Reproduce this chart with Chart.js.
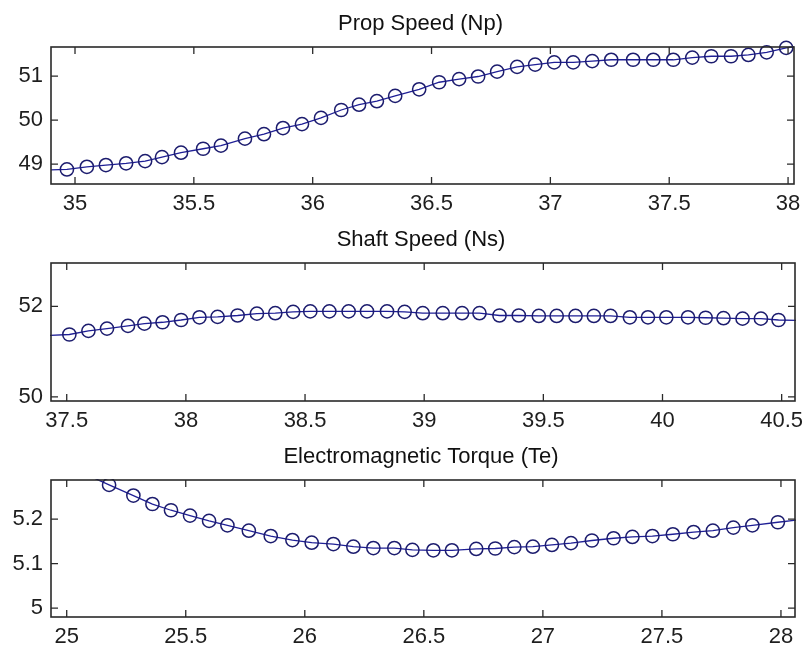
<!DOCTYPE html>
<html>
<head>
<meta charset="utf-8">
<script src="https://cdn.jsdelivr.net/npm/chart.js@4/dist/chart.umd.min.js"></script>
<style>
  html, body { margin: 0; padding: 0; background: #ffffff; }
  #wrap { position: relative; width: 804px; height: 651px; background: #ffffff; }
  canvas { position: absolute; left: 0; }
</style>
</head>
<body>
<div id="wrap">
  <canvas id="c1" width="804" height="218" style="top:0px"></canvas>
  <canvas id="c2" width="804" height="218" style="top:218px"></canvas>
  <canvas id="c3" width="804" height="215" style="top:436px"></canvas>
</div>
<script>
// Prop speed Np over time
const PROP_T = [34.886, 34.966, 35.05, 35.13, 35.215, 35.295, 35.366, 35.446, 35.539, 35.614,
  35.715, 35.795, 35.875, 35.955, 36.035, 36.12, 36.195, 36.27, 36.347, 36.448,
  36.532, 36.616, 36.696, 36.776, 36.86, 36.936, 37.016, 37.096, 37.176, 37.256,
  37.348, 37.433, 37.517, 37.597, 37.677, 37.76, 37.833, 37.91, 37.992, 38.07];
const PROP_NP = [48.87, 48.88, 48.94, 48.98, 49.02, 49.07, 49.16, 49.26, 49.35, 49.42,
  49.58, 49.68, 49.82, 49.91, 50.05, 50.23, 50.35, 50.43, 50.55, 50.70,
  50.86, 50.93, 50.99, 51.10, 51.21, 51.26, 51.31, 51.31, 51.34, 51.37,
  51.37, 51.37, 51.37, 51.42, 51.45, 51.45, 51.48, 51.54, 51.64, 51.70];
const PROP_XTICKS = [35, 35.5, 36, 36.5, 37, 37.5, 38];
const PROP_YTICKS = [49, 50, 51];

// Shaft speed Ns over time
const SHAFT_T = [37.42, 37.511, 37.591, 37.669, 37.757, 37.826, 37.902, 37.98, 38.057, 38.133,
  38.217, 38.298, 38.375, 38.45, 38.522, 38.602, 38.683, 38.76, 38.844, 38.918,
  38.994, 39.078, 39.159, 39.232, 39.316, 39.397, 39.481, 39.556, 39.635, 39.712,
  39.782, 39.863, 39.939, 40.016, 40.107, 40.181, 40.256, 40.336, 40.413, 40.487, 40.57];
const SHAFT_NS = [51.36, 51.38, 51.46, 51.51, 51.57, 51.62, 51.65, 51.70, 51.76, 51.77,
  51.80, 51.84, 51.85, 51.88, 51.89, 51.89, 51.89, 51.89, 51.89, 51.88,
  51.85, 51.85, 51.85, 51.85, 51.80, 51.80, 51.79, 51.79, 51.79, 51.79,
  51.79, 51.76, 51.76, 51.76, 51.76, 51.75, 51.74, 51.73, 51.73, 51.70, 51.69];
const SHAFT_XTICKS = [37.5, 38, 38.5, 39, 39.5, 40, 40.5];
const SHAFT_YTICKS = [50, 52];

// Electromagnetic torque Te over time
const TE_T = [25.10, 25.178, 25.28, 25.36, 25.438, 25.518, 25.598, 25.675, 25.765, 25.857,
  25.948, 26.029, 26.12, 26.204, 26.288, 26.376, 26.452, 26.54, 26.618, 26.72,
  26.80, 26.88, 26.958, 27.038, 27.118, 27.206, 27.297, 27.376, 27.46, 27.546,
  27.633, 27.714, 27.80, 27.88, 27.987, 28.08];
const TE_VAL = [5.296, 5.277, 5.253, 5.234, 5.220, 5.208, 5.196, 5.186, 5.174, 5.162,
  5.153, 5.147, 5.144, 5.138, 5.135, 5.135, 5.131, 5.130, 5.130, 5.133,
  5.134, 5.137, 5.138, 5.142, 5.146, 5.152, 5.157, 5.160, 5.162, 5.166,
  5.171, 5.174, 5.181, 5.186, 5.193, 5.199];
const TE_XTICKS = [25, 25.5, 26, 26.5, 27, 27.5, 28];
const TE_YTICKS = [5, 5.1, 5.2];

const LINE_COLOR = '#1f1f96';
const MARKER_COLOR = '#1c1c6e';
const AXIS_COLOR = '#2a2a2a';
const FONT = "'Liberation Sans', Arial, sans-serif";

Chart.defaults.font.family = FONT;
Chart.defaults.color = '#1e1e1e';

// Axes box with inward tick marks on all four sides, plus the panel title
const boxPlugin = {
  id: 'boxAxes',
  afterDraw(chart, args, opts) {
    const { ctx, chartArea: a, scales } = chart;
    const tl = 7;
    ctx.save();
    ctx.strokeStyle = AXIS_COLOR;
    ctx.lineWidth = 1.6;
    ctx.strokeRect(a.left, a.top, a.right - a.left, a.bottom - a.top);
    ctx.lineWidth = 1.3;
    ctx.beginPath();
    scales.x.ticks.forEach(t => {
      const px = scales.x.getPixelForValue(t.value);
      ctx.moveTo(px, a.bottom); ctx.lineTo(px, a.bottom - tl);
      ctx.moveTo(px, a.top); ctx.lineTo(px, a.top + tl);
    });
    scales.y.ticks.forEach(t => {
      const py = scales.y.getPixelForValue(t.value);
      ctx.moveTo(a.left, py); ctx.lineTo(a.left + tl, py);
      ctx.moveTo(a.right, py); ctx.lineTo(a.right - tl, py);
    });
    ctx.stroke();
    ctx.fillStyle = '#111111';
    ctx.font = '22px ' + FONT;
    ctx.textAlign = 'center';
    ctx.textBaseline = 'alphabetic';
    ctx.fillText(opts.text, (a.left + a.right) / 2 - 2, a.top - 17.5);
    ctx.restore();
  }
};

function makePanel(id, title, tArr, vArr, xr, yr, xTicks, yTicks, layout) {
  const data = tArr.map((t, i) => ({ x: t, y: vArr[i] }));
  return new Chart(document.getElementById(id), {
    type: 'line',
    data: {
      datasets: [{
        data: data,
        borderColor: LINE_COLOR,
        borderWidth: 1.3,
        backgroundColor: 'rgba(0,0,0,0)',
        pointBorderColor: MARKER_COLOR,
        pointBackgroundColor: 'rgba(0,0,0,0)',
        pointBorderWidth: 1.5,
        pointStyle: 'circle',
        // markers only for samples inside the visible time window
        pointRadius: ctx => {
          const r = ctx.raw;
          return (r && r.x >= xr[0] && r.x <= xr[1] && r.y >= yr[0] && r.y <= yr[1]) ? 6.6 : 0;
        },
        pointHoverRadius: 0,
        tension: 0,
        fill: false,
        clip: layout.clip
      }]
    },
    options: {
      responsive: false,
      animation: false,
      events: [],
      layout: { padding: { top: layout.top, right: layout.right, left: 0, bottom: 0 } },
      plugins: {
        legend: { display: false },
        title: { display: false },
        tooltip: { enabled: false },
        boxAxes: { text: title }
      },
      scales: {
        x: {
          type: 'linear',
          min: xr[0], max: xr[1],
          grid: { display: false, drawTicks: false, tickLength: 0 },
          border: { display: false },
          afterBuildTicks: s => { s.ticks = xTicks.map(v => ({ value: v })); },
          afterFit: s => {
            s.height = layout.xh;
            s.paddingLeft = 0; s.paddingRight = 0;
          },
          ticks: {
            autoSkip: false, maxRotation: 0, padding: 7,
            font: { size: 22 },
            color: '#1e1e1e',
            callback: v => String(v)
          }
        },
        y: {
          type: 'linear',
          min: yr[0], max: yr[1],
          grid: { display: false, drawTicks: false, tickLength: 0 },
          border: { display: false },
          afterBuildTicks: s => { s.ticks = yTicks.map(v => ({ value: v })); },
          afterFit: s => {
            s.width = 51;
            s.paddingTop = 0; s.paddingBottom = 0;
          },
          ticks: {
            autoSkip: false, padding: 8,
            font: { size: 22 },
            color: '#1e1e1e',
            callback: v => String(v)
          }
        }
      }
    },
    plugins: [boxPlugin]
  });
}

makePanel('c1', 'Prop Speed (Np)', PROP_T, PROP_NP, [34.899, 38.025], [48.55, 51.66],
  PROP_XTICKS, PROP_YTICKS, { top: 47, right: 10, xh: 34, clip: { left: 0, top: 8, right: 0, bottom: 0 } });
makePanel('c2', 'Shaft Speed (Ns)', SHAFT_T, SHAFT_NS, [37.434, 40.556], [49.91, 52.96],
  SHAFT_XTICKS, SHAFT_YTICKS, { top: 45, right: 9, xh: 35, clip: 1 });
makePanel('c3', 'Electromagnetic Torque (Te)', TE_T, TE_VAL, [24.934, 28.059], [4.98, 5.288],
  TE_XTICKS, TE_YTICKS, { top: 44, right: 9, xh: 34, clip: 1 });
</script>
</body>
</html>
